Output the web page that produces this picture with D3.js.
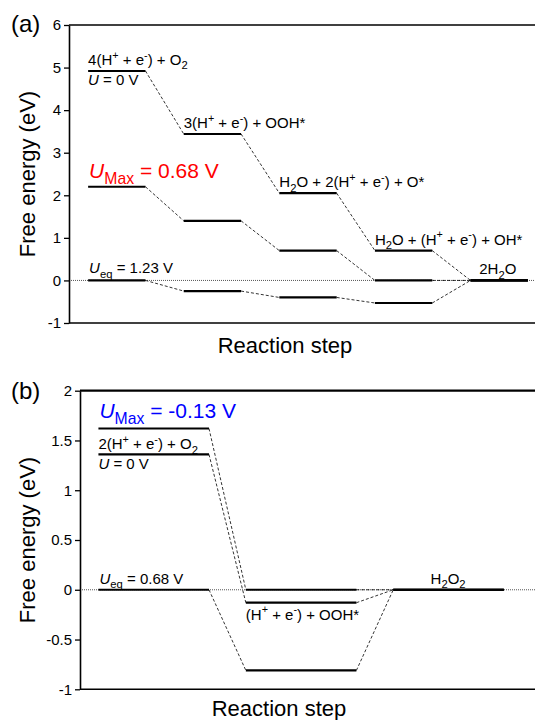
<!DOCTYPE html>
<html>
<head>
<meta charset="utf-8">
<script src="https://cdn.jsdelivr.net/npm/d3@7"></script>
<style>
  body { margin: 0; background: #fff; }
  svg { font-family: "Liberation Sans", Arial, sans-serif; }
  text { white-space: pre; }
</style>
</head>
<body>
<div id="plot"></div>
<script>
// values (free energy in eV)

// panel (a) - 4 electron path
const stepsA = [1, 2, 3, 4, 5];
const levelsA_U0 = [4.92, 3.44, 2.05, 0.70, 0];
const levelsA_Umax = [2.20, 1.40, 0.70, 0.00, 0];
const levelsA_Ueq = [0, -0.25, -0.40, -0.53, 0];
const yTicksA = [-1, 0, 1, 2, 3, 4, 5, 6];
const labelsA = [
  "4(H^{+} + e^{-}) + O_{2}",
  "3(H^{+} + e^{-}) + OOH*",
  "H_{2}O + 2(H^{+} + e^{-}) + O*",
  "H_{2}O + (H^{+} + e^{-}) + OH*",
  "2H_{2}O"
];

// panel (b) - 2 electron path
const stepsB = [1, 2, 3];
const levelsB_U0 = [1.36, -0.13, 0];
const levelsB_Umax = [1.62, 0.00, 0];
const levelsB_Ueq = [0, -0.81, 0];
const yTicksB = [-1, -0.5, 0, 0.5, 1, 1.5, 2];

const width = 535, height = 720;
const fs = 15; // annotation font size

const svg = d3.select("#plot")
  .append("svg")
    .attr("width", width)
    .attr("height", height);

// writes text with ^{sup}, _{sub} and ~italic~ parts
function rich(sel, str, size) {
  const parts = str.split(/(\^\{[^}]*\}|_\{[^}]*\}|~[^~]*~)/).filter(s => s.length);
  let shift = 0;
  parts.forEach(p => {
    let dy = 0, txt = p, f = size, italic = false;
    if (p[0] === "^") { txt = p.slice(2, -1); dy = -0.42 * size; f = size * 0.72; }
    else if (p[0] === "_") { txt = p.slice(2, -1); dy = 0.3 * size; f = size * 0.75; }
    else if (p[0] === "~") { txt = p.slice(1, -1); italic = true; }
    const t = sel.append("tspan")
      .attr("dy", dy - shift)
      .style("font-size", f + "px")
      .text(txt);
    if (italic) t.style("font-style", "italic");
    shift = dy;
  });
  return sel;
}

function addText(g, x, y, str, size, color) {
  const t = g.append("text")
    .attr("x", x)
    .attr("y", y)
    .attr("fill", color || "#000");
  rich(t, str, size);
  return t;
}

function drawPanel(opts) {
  const g = svg.append("g");
  const x = d3.scaleLinear().domain(opts.xDomain).range(opts.xRange);
  const y = d3.scaleLinear().domain(opts.yDomain).range(opts.yRange);
  const hw = opts.halfWidth;
  const x0 = opts.xRange[0], x1 = opts.xRange[1];

  // zero reference line
  g.append("line")
    .attr("x1", x0).attr("x2", x1)
    .attr("y1", y(0)).attr("y2", y(0))
    .attr("stroke", "#555")
    .attr("stroke-width", 1)
    .attr("stroke-dasharray", "1,1");

  opts.series.forEach(vals => {
    // dashed connectors
    for (let i = 0; i < vals.length - 1; i++) {
      g.append("line")
        .attr("x1", x(opts.steps[i] + hw)).attr("y1", y(vals[i]))
        .attr("x2", x(opts.steps[i + 1] - hw)).attr("y2", y(vals[i + 1]))
        .attr("stroke", "#000")
        .attr("stroke-width", 0.8)
        .attr("stroke-dasharray", "3,2");
    }
    // levels
    g.selectAll(null)
      .data(vals)
      .enter().append("line")
        .attr("x1", (d, i) => x(opts.steps[i] - hw))
        .attr("x2", (d, i) => x(opts.steps[i] + hw))
        .attr("y1", d => y(d))
        .attr("y2", d => y(d))
        .attr("stroke", "#000")
        .attr("stroke-width", 2.2);
  });

  // frame: left axis, bottom and top lines
  g.append("g")
    .attr("transform", "translate(" + x0 + ",0)")
    .call(d3.axisLeft(y).tickValues(opts.yTicks).tickFormat(d => String(d))
      .tickSize(5).tickSizeOuter(0).tickPadding(3))
    .call(a => a.select(".domain").attr("stroke-width", 1.6))
    .call(a => a.selectAll(".tick line").attr("stroke-width", 1.3))
    .call(a => a.selectAll("text").style("font-size", "15px").attr("fill", "#000")
      .style("font-family", "Liberation Sans, Arial, sans-serif"));

  g.append("line")
    .attr("x1", x0).attr("x2", x1)
    .attr("y1", opts.yRange[0]).attr("y2", opts.yRange[0])
    .attr("stroke", "#000").attr("stroke-width", 1.6);
  g.append("line")
    .attr("x1", x0).attr("x2", x1)
    .attr("y1", opts.yRange[1]).attr("y2", opts.yRange[1])
    .attr("stroke", "#000").attr("stroke-width", opts.topWidth);

  // axis titles
  const yMid = (opts.yRange[0] + opts.yRange[1]) / 2;
  g.append("text")
    .attr("transform", "translate(35," + yMid + ") rotate(-90)")
    .attr("text-anchor", "middle")
    .style("font-size", "22px")
    .text("Free energy (eV)");
  g.append("text")
    .attr("x", opts.xTitleX)
    .attr("y", opts.xTitleY)
    .attr("text-anchor", "middle")
    .style("font-size", "22px")
    .text("Reaction step");
  g.append("text")
    .attr("x", 11)
    .attr("y", opts.panelY)
    .style("font-size", "24px")
    .text(opts.panel);

  return { g, x, y };
}

// ---- panel (a)
const A = drawPanel({
  steps: stepsA,
  series: [levelsA_Ueq, levelsA_Umax, levelsA_U0],
  xDomain: [0.5, 5.5], xRange: [69, 547],
  yDomain: [-1, 6], yRange: [323, 25],
  yTicks: yTicksA, halfWidth: 0.3,
  topWidth: 1.3, xTitleX: 285, xTitleY: 353, panel: "(a)", panelY: 32
});

labelsA.forEach((s, i) => {
  const px = i === 4 ? A.x(stepsA[i]) - 20 : A.x(stepsA[i] - 0.3);
  addText(A.g, px, A.y(levelsA_U0[i]) - 6, s, fs);
});
addText(A.g, A.x(stepsA[0] - 0.3), A.y(levelsA_U0[0]) + 14, "~U~ = 0 V", fs);
addText(A.g, A.x(stepsA[0] - 0.3) + 1, A.y(levelsA_Umax[0]) - 9, "~U~_{Max} = 0.68 V", 21, "#ff0000");
addText(A.g, A.x(stepsA[0] - 0.3) + 1, A.y(levelsA_Ueq[0]) - 7, "~U~_{eq} = 1.23 V", fs);

// ---- panel (b)
const B = drawPanel({
  steps: stepsB,
  series: [levelsB_Ueq, levelsB_U0, levelsB_Umax],
  xDomain: [0.5, 3.6], xRange: [80, 537],
  yDomain: [-1, 2], yRange: [689.3, 390.7],
  yTicks: yTicksB, halfWidth: 0.375,
  topWidth: 2.2, xTitleX: 279, xTitleY: 716, panel: "(b)", panelY: 399
});

const bx = B.x(stepsB[0] - 0.375);
addText(B.g, bx + 1, B.y(levelsB_Umax[0]) - 11, "~U~_{Max} = -0.13 V", 21, "#0000ff");
addText(B.g, bx, B.y(levelsB_U0[0]) - 5, "2(H^{+} + e^{-}) + O_{2}", fs);
addText(B.g, bx, B.y(levelsB_U0[0]) + 15, "~U~ = 0 V", fs);
addText(B.g, bx + 1, B.y(levelsB_Ueq[0]) - 6, "~U~_{eq} = 0.68 V", fs);
addText(B.g, B.x(stepsB[1] - 0.375), B.y(levelsB_U0[1]) + 17, "(H^{+} + e^{-}) + OOH*", fs);
addText(B.g, B.x(stepsB[2]) - 18, B.y(levelsB_Ueq[2]) - 6, "H_{2}O_{2}", fs);
</script>
</body>
</html>
